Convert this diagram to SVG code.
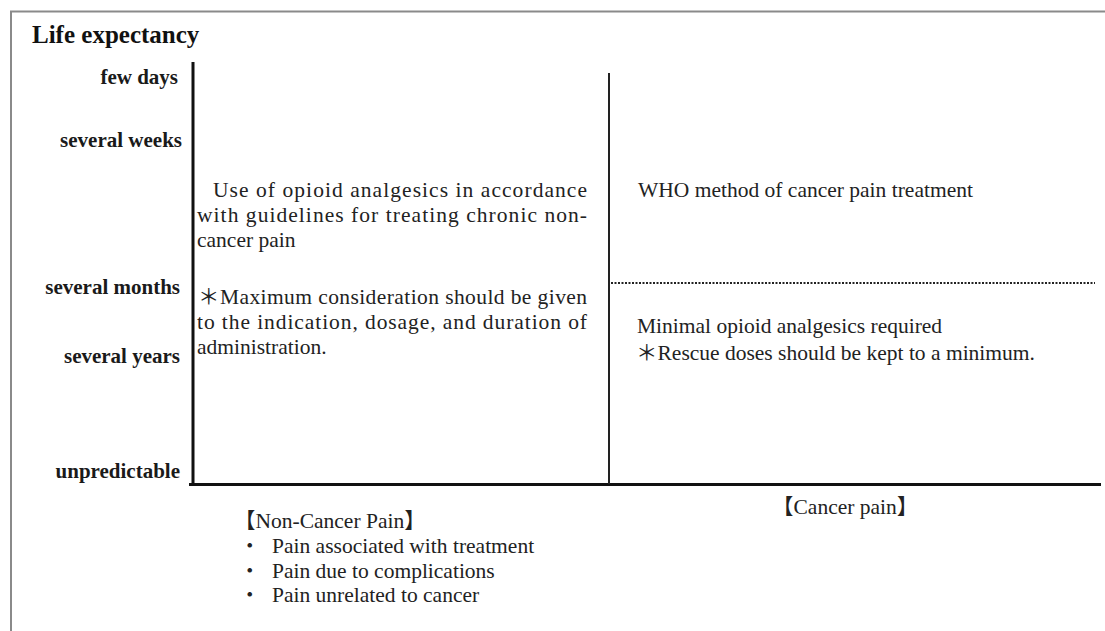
<svg xmlns="http://www.w3.org/2000/svg" width="1105" height="631" viewBox="0 0 1105 631">
  <style>
    .frame { stroke: #8a8a8a; stroke-width: 2; fill: none; }
    .axis { stroke: #111; stroke-width: 3; fill: none; }
    .div { stroke: #222; stroke-width: 2; fill: none; }
    .dot { stroke: #222; stroke-width: 2; stroke-dasharray: 2 1.5; fill: none; }
    .ttl { font-family: "Liberation Serif", "Noto Sans CJK JP", serif; font-weight: bold; font-size: 25px; fill: #111; }
    .lbl { font-family: "Liberation Serif", "Noto Sans CJK JP", serif; font-weight: bold; font-size: 21px; fill: #1a1a1a; text-anchor: end; }
    .txt { font-family: "Liberation Serif", "Noto Sans CJK JP", serif; font-size: 21.5px; fill: #222; }
  </style>
  <rect x="0" y="0" width="1105" height="631" fill="#ffffff"/>
  <g id="frame">
    <path class="frame" d="M11,631 V11.5 H1105"/>
  </g>
  <g id="title">
    <text class="ttl" x="32" y="43">Life expectancy</text>
  </g>
  <g id="y-labels">
    <text class="lbl" x="178" y="84">few days</text>
    <text class="lbl" x="182" y="147">several weeks</text>
    <text class="lbl" x="180" y="294">several months</text>
    <text class="lbl" x="180" y="363">several years</text>
    <text class="lbl" x="180" y="478">unpredictable</text>
  </g>
  <g id="connectors">
    <line class="axis" x1="193" y1="62" x2="193" y2="486"/>
    <line class="axis" x1="189" y1="484.5" x2="1101" y2="484.5"/>
    <line class="div" x1="609" y1="73" x2="609" y2="484"/>
    <line class="dot" x1="611" y1="283" x2="1095" y2="283"/>
  </g>
  <g id="non-cancer-region">
    <text class="txt" x="213" y="197" textLength="374" lengthAdjust="spacing">Use of opioid analgesics in accordance</text>
    <text class="txt" x="197" y="222" textLength="390" lengthAdjust="spacing">with guidelines for treating chronic non-</text>
    <text class="txt" x="197" y="247">cancer pain</text>
    <text class="txt" x="198" y="304" textLength="389" lengthAdjust="spacing">＊Maximum consideration should be given</text>
    <text class="txt" x="197" y="329" textLength="390" lengthAdjust="spacing">to the indication, dosage, and duration of</text>
    <text class="txt" x="197" y="354">administration.</text>
  </g>
  <g id="cancer-region-upper">
    <text class="txt" x="638" y="197">WHO method of cancer pain treatment</text>
  </g>
  <g id="cancer-region-lower">
    <text class="txt" x="637" y="333">Minimal opioid analgesics required</text>
    <text class="txt" x="636" y="360">＊Rescue doses should be kept to a minimum.</text>
  </g>
  <g id="non-cancer-legend">
    <text class="txt" x="234" y="528">【Non-Cancer Pain】</text>
    <text class="txt" x="239" y="553">・</text>
    <text class="txt" x="272" y="553">Pain associated with treatment</text>
    <text class="txt" x="239" y="578">・</text>
    <text class="txt" x="272" y="578">Pain due to complications</text>
    <text class="txt" x="239" y="602">・</text>
    <text class="txt" x="272" y="602">Pain unrelated to cancer</text>
  </g>
  <g id="cancer-legend">
    <text class="txt" x="772" y="514">【Cancer pain】</text>
  </g>
</svg>
